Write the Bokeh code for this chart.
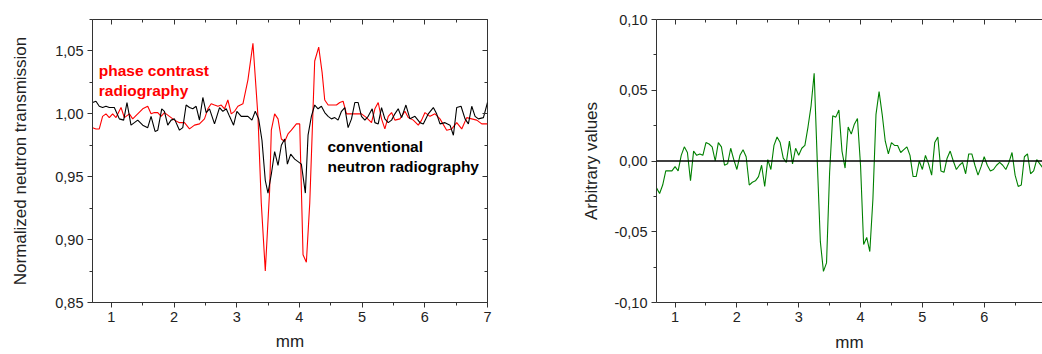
from bokeh.plotting import figure
from bokeh.layouts import row
from bokeh.models import (FixedTicker, CustomJSTickFormatter, LinearAxis, Label, Span, Range1d)
from bokeh.embed import file_html
from bokeh.resources import INLINE

# ---------------- data (left panel) ----------------
red_x = [0.702, 0.755, 0.808, 0.861, 0.915, 0.968, 1.021, 1.075, 1.155, 1.208, 1.288, 1.341, 1.421, 1.501,
         1.581, 1.634, 1.687, 1.741, 1.794, 1.847, 1.927, 2.007, 2.087, 2.167, 2.247, 2.327, 2.406, 2.486,
         2.540, 2.593, 2.646, 2.700, 2.753, 2.806, 2.859, 2.913, 2.966, 3.019, 3.099, 3.179, 3.259, 3.339,
         3.392, 3.456, 3.525, 3.552, 3.605, 3.659, 3.712, 3.765, 3.818, 3.872, 3.952, 4.005, 4.058, 4.111,
         4.165, 4.244, 4.308, 4.362, 4.404, 4.458, 4.511, 4.591, 4.644, 4.697, 4.751, 4.831, 4.911, 4.990,
         5.070, 5.150, 5.204, 5.257, 5.310, 5.363, 5.417, 5.470, 5.523, 5.603, 5.683, 5.736, 5.816, 5.896,
         5.949, 6.003, 6.083, 6.163, 6.242, 6.349, 6.429, 6.509, 6.589, 6.669, 6.749, 6.829, 6.908, 7.000]
red_y = [0.989, 0.988, 0.988, 0.998, 1.000, 0.997, 1.000, 0.997, 1.005, 0.997, 1.000, 0.996, 1.000, 1.004,
         1.006, 1.000, 1.001, 1.001, 0.998, 1.001, 0.998, 0.995, 0.993, 0.993, 0.988, 0.991, 0.992, 0.996,
         1.004, 1.008, 1.007, 1.006, 1.007, 1.004, 1.011, 1.000, 1.002, 1.006, 1.008, 1.027, 1.056, 0.998,
         0.929, 0.875, 0.939, 0.987, 1.000, 0.996, 0.980, 0.978, 0.984, 0.987, 0.992, 0.992, 0.888, 0.882,
         0.929, 1.042, 1.053, 1.033, 1.011, 1.007, 1.007, 1.007, 1.009, 1.010, 1.000, 1.000, 1.000, 1.000,
         0.997, 0.993, 1.004, 1.009, 0.996, 0.988, 0.998, 1.001, 0.995, 0.996, 1.002, 0.997, 0.995, 0.991,
         0.995, 1.001, 0.998, 1.000, 0.996, 0.987, 0.988, 0.993, 0.988, 0.997, 0.996, 0.995, 0.992, 0.992]

black_x = [0.702, 0.755, 0.808, 0.861, 0.915, 0.968, 1.048, 1.128, 1.197, 1.250,
           1.314, 1.368, 1.421, 1.501, 1.581, 1.634, 1.698, 1.741, 1.804, 1.847,
           1.900, 1.954, 2.007, 2.087, 2.140, 2.193, 2.247, 2.300, 2.353, 2.406,
           2.460, 2.513, 2.566, 2.646, 2.726, 2.779, 2.833, 2.886, 2.950, 3.003,
           3.072, 3.179, 3.243, 3.296, 3.350, 3.403, 3.456, 3.499, 3.552, 3.605,
           3.659, 3.712, 3.765, 3.808, 3.861, 3.925, 3.978, 4.031, 4.095, 4.138,
           4.191, 4.244, 4.298, 4.351, 4.404, 4.458, 4.511, 4.564, 4.617, 4.671,
           4.724, 4.777, 4.831, 4.884, 4.937, 4.990, 5.044, 5.097, 5.161, 5.204,
           5.257, 5.310, 5.363, 5.417, 5.470, 5.523, 5.576, 5.630, 5.699, 5.763,
           5.843, 5.923, 5.976, 6.056, 6.136, 6.189, 6.242, 6.322, 6.402, 6.456,
           6.509, 6.578, 6.642, 6.695, 6.749, 6.802, 6.855, 6.935, 7.000]
black_y = [1.009, 1.010, 1.006, 1.005, 1.006, 1.005, 1.005, 0.996, 0.995, 1.009,
           0.991, 0.993, 0.995, 0.991, 0.989, 0.998, 0.986, 0.987, 1.004, 1.002,
           0.991, 0.995, 0.996, 0.987, 0.989, 1.007, 1.005, 1.004, 1.006, 0.995,
           1.013, 1.001, 1.004, 0.992, 1.005, 1.002, 1.004, 0.998, 0.991, 1.002,
           0.998, 0.998, 0.995, 1.002, 0.996, 0.979, 0.947, 0.937, 0.952, 0.970,
           0.959, 0.975, 0.980, 0.960, 0.968, 0.964, 0.962, 0.960, 0.937, 0.983,
           0.998, 1.007, 1.004, 1.006, 1.001, 0.998, 0.996, 0.997, 0.995, 1.002,
           1.005, 0.989, 0.996, 1.009, 1.009, 0.998, 0.995, 0.998, 1.004, 0.993,
           0.992, 1.005, 0.996, 0.993, 0.995, 1.000, 1.004, 0.997, 1.007, 0.996,
           0.998, 0.993, 0.992, 1.000, 1.005, 1.000, 0.992, 0.993, 0.991, 0.983,
           1.005, 1.006, 0.996, 0.992, 1.006, 0.998, 0.996, 0.997, 1.009]

# ---------------- data (right panel) ----------------
green_x = [0.70, 0.75, 0.80, 0.85, 0.90, 0.95, 1.00, 1.05, 1.10, 1.15, 1.20, 1.25, 1.30, 1.35, 1.40, 1.45,
           1.50, 1.55, 1.60, 1.65, 1.70, 1.75, 1.80, 1.85, 1.90, 1.95, 2.00, 2.05, 2.10, 2.15, 2.20, 2.25,
           2.30, 2.35, 2.40, 2.45, 2.50, 2.55, 2.60, 2.65, 2.70, 2.75, 2.80, 2.85, 2.90, 2.95, 3.00, 3.05,
           3.10, 3.15, 3.20, 3.25, 3.30, 3.35, 3.40, 3.45, 3.50, 3.55, 3.60, 3.65, 3.70, 3.75, 3.80, 3.85,
           3.90, 3.95, 4.00, 4.05, 4.10, 4.15, 4.20, 4.25, 4.30, 4.35, 4.40, 4.45, 4.50, 4.55, 4.60, 4.65,
           4.70, 4.75, 4.80, 4.85, 4.90, 4.95, 5.00, 5.05, 5.10, 5.15, 5.20, 5.25, 5.30, 5.35, 5.40, 5.45,
           5.50, 5.55, 5.60, 5.65, 5.70, 5.75, 5.80, 5.85, 5.90, 5.95, 6.00, 6.05, 6.10, 6.15, 6.20, 6.25,
           6.30, 6.35, 6.40, 6.45, 6.50, 6.55, 6.60, 6.65, 6.70, 6.75, 6.80, 6.85, 6.90, 6.95]
green_y = [-0.019, -0.023, -0.017, -0.007, -0.007, -0.007, -0.004, -0.007, 0.004, 0.010,
           0.006, -0.014, 0.007, 0.004, 0.005, 0.004, 0.013, 0.012, 0.010, 0.000,
           0.013, 0.010, -0.003, -0.002, 0.009, 0.001, -0.006, 0.004, 0.008, 0.003,
           -0.017, -0.015, -0.014, -0.011, -0.003, -0.018, 0.001, -0.006, 0.011, 0.017,
           0.013, 0.002, -0.001, 0.014, -0.002, 0.009, 0.004, 0.009, 0.011, 0.024,
           0.039, 0.062, 0.000, -0.057, -0.078, -0.072, -0.008, 0.032, 0.031, 0.036,
           0.007, -0.005, 0.024, 0.019, 0.026, 0.030, -0.003, -0.059, -0.054, -0.064,
           -0.027, 0.033, 0.049, 0.033, 0.014, 0.005, 0.013, 0.011, 0.011, 0.006,
           0.008, 0.010, 0.004, -0.011, -0.011, 0.000, -0.006, 0.004, -0.002, -0.010,
           0.013, 0.017, -0.007, -0.008, 0.002, 0.007, 0.000, -0.006, -0.003, -0.001,
           -0.009, 0.005, 0.005, -0.003, -0.010, -0.004, 0.003, -0.003, -0.007, -0.006,
           -0.003, -0.001, -0.003, -0.006, -0.001, 0.006, -0.010, -0.018, -0.017, 0.003,
           0.005, -0.009, -0.007, 0.001, -0.002, -0.005]

x_ticks = [1, 2, 3, 4, 5, 6, 7]
x_minor = [0.5, 1.5, 2.5, 3.5, 4.5, 5.5, 6.5, 7.5]
left_y_ticks = [0.85, 0.90, 0.95, 1.00, 1.05]
left_y_minor = [0.875, 0.925, 0.975, 1.025, 1.075]
right_y_ticks = [-0.10, -0.05, 0.00, 0.05, 0.10]
right_y_minor = [-0.075, -0.025, 0.025, 0.075]

left_ylabel = "Normalized neutron transmission"
right_ylabel = "Arbitrary values"
xlabel = "mm"
label_red = ["phase contrast", "radiography"]
label_black = ["conventional", "neutron radiography"]

FONT = "Liberation Sans"
TICK_FS = "14.5px"
LABEL_FS = "17px"
AX_COLOR = "#333333"
TXT_COLOR = "#222222"

comma_fmt = CustomJSTickFormatter(code="return tick.toFixed(2).replace('.', ',');")
int_fmt = CustomJSTickFormatter(code="return tick.toFixed(0);")
blank_fmt = CustomJSTickFormatter(code="return '';")


def style_axis(ax, ticks, minor, fmt):
    ax.ticker = FixedTicker(ticks=ticks, minor_ticks=minor)
    ax.formatter = fmt
    ax.axis_line_color = AX_COLOR
    ax.major_tick_line_color = AX_COLOR
    ax.minor_tick_line_color = AX_COLOR
    ax.major_tick_out = 5
    ax.major_tick_in = 0
    ax.minor_tick_out = 3
    ax.minor_tick_in = 0
    ax.major_label_text_font = FONT
    ax.major_label_text_font_size = TICK_FS
    ax.major_label_text_color = TXT_COLOR
    ax.major_label_standoff = 4
    ax.axis_label_text_font = FONT
    ax.axis_label_text_font_size = LABEL_FS
    ax.axis_label_text_font_style = "normal"
    ax.axis_label_text_color = TXT_COLOR


def mirror_axis(p, side, ticks, minor, line=True):
    ax = LinearAxis(ticker=FixedTicker(ticks=ticks, minor_ticks=minor), formatter=blank_fmt)
    ax.major_label_standoff = 0
    ax.major_tick_in = 5
    ax.major_tick_out = 0
    ax.minor_tick_in = 3
    ax.minor_tick_out = 0
    ax.axis_line_color = AX_COLOR if line else None
    ax.major_tick_line_color = AX_COLOR
    ax.minor_tick_line_color = AX_COLOR
    p.add_layout(ax, side)


# ---------------- left panel ----------------
p1 = figure(width=540, height=354, output_backend="svg", toolbar_location=None,
            x_range=Range1d(0.70, 7.0), y_range=Range1d(0.85, 1.075),
            min_border_left=92, min_border_right=53, min_border_top=11, min_border_bottom=52)
p1.xgrid.visible = False
p1.ygrid.visible = False
p1.outline_line_color = AX_COLOR
p1.background_fill_color = "white"
p1.border_fill_color = "white"

p1.line(red_x, red_y, line_color="#ff0000", line_width=1.1)
p1.line(black_x, black_y, line_color="#000000", line_width=1.1)

style_axis(p1.xaxis[0], x_ticks, x_minor, int_fmt)
style_axis(p1.yaxis[0], left_y_ticks, left_y_minor, comma_fmt)
p1.xaxis[0].axis_label = xlabel
p1.xaxis[0].axis_label_standoff = 7
p1.xaxis[0].axis_label_text_line_height = 0.6
p1.yaxis[0].axis_label = left_ylabel
p1.yaxis[0].axis_label_standoff = 22
mirror_axis(p1, "right", left_y_ticks, left_y_minor, line=False)
mirror_axis(p1, "above", x_ticks, x_minor, line=False)

for i, t in enumerate(label_red):
    p1.add_layout(Label(x=0.80, y=[1.0345, 1.0183][i], text=t, text_color="#ff0000",
                        text_font=FONT, text_font_size="15.5px", text_font_style="bold",
                        text_baseline="middle", text_align="left"))
for i, t in enumerate(label_black):
    p1.add_layout(Label(x=4.447, y=[0.9738, 0.9584][i], text=t, text_color="#000000",
                        text_font=FONT, text_font_size="15.5px", text_font_style="bold",
                        text_baseline="middle", text_align="left"))

# ---------------- right panel ----------------
p2 = figure(width=502, height=354, output_backend="svg", toolbar_location=None,
            x_range=Range1d(0.70, 6.943), y_range=Range1d(-0.10, 0.10),
            min_border_left=116, min_border_right=0, min_border_top=19, min_border_bottom=50)
p2.xgrid.visible = False
p2.ygrid.visible = False
p2.outline_line_color = None
p2.background_fill_color = "white"
p2.border_fill_color = "white"

p2.add_layout(Span(location=0, dimension="width", line_color="#000000", line_width=1.3))
p2.line(green_x, green_y, line_color="#008000", line_width=1.1)

style_axis(p2.xaxis[0], x_ticks, x_minor, int_fmt)
style_axis(p2.yaxis[0], right_y_ticks, right_y_minor, comma_fmt)
p2.xaxis[0].axis_label = xlabel
p2.xaxis[0].axis_label_standoff = 8
p2.xaxis[0].axis_label_text_line_height = 0.6
p2.xaxis[0].axis_label_text_baseline = "middle"
p2.yaxis[0].axis_label = right_ylabel
p2.yaxis[0].axis_label_standoff = 10
mirror_axis(p2, "above", x_ticks, x_minor, line=True)

layout = row(p1, p2)
open("out.html", "w").write(file_html(layout, INLINE))
